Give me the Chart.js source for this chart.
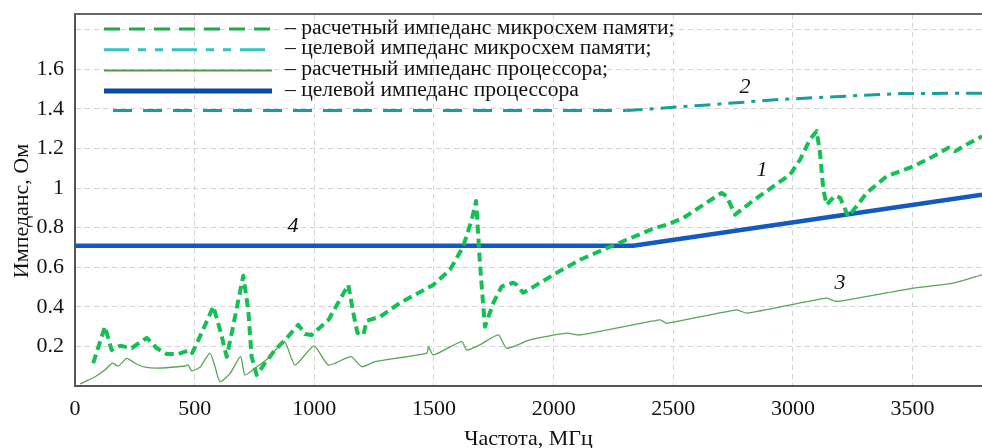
<!DOCTYPE html>
<html>
<head>
<meta charset="utf-8">
<script src="https://cdn.jsdelivr.net/npm/chart.js@4.4.1/dist/chart.umd.min.js"></script>
<style>
  html, body { margin: 0; padding: 0; background: #fff; }
  #wrap { width: 982px; height: 448px; position: relative; }
</style>
</head>
<body>
<div id="wrap"><canvas id="chart"></canvas></div>
<script>
// 1 - расчетный импеданс микросхем памяти
const memCalcFreq = [76, 125, 153, 188, 237, 300, 341, 383, 432, 481, 490, 529, 578, 606, 634, 662, 703, 724, 738, 759,
  794, 836, 878, 933, 961, 989, 1059, 1142, 1163, 1180, 1205, 1219, 1275, 1358, 1497, 1567, 1622, 1658, 1676, 1692,
  1705, 1713, 1748, 1783, 1832, 1846, 1873, 1929, 2013, 2110, 2208, 2305, 2416, 2472, 2542, 2702, 2723, 2758, 2821,
  2918, 2988, 3030, 3071, 3099, 3113, 3127, 3141, 3176, 3197, 3231, 3266, 3308, 3392, 3503, 3587, 3650, 3677, 3726, 3790];
const memCalcZ = [0.115, 0.300, 0.182, 0.203, 0.192, 0.243, 0.192, 0.162, 0.162, 0.182, 0.167, 0.268, 0.402, 0.284, 0.148,
  0.309, 0.557, 0.385, 0.148, 0.056, 0.116, 0.182, 0.233, 0.309, 0.263, 0.258, 0.334, 0.511, 0.370, 0.268, 0.258,
  0.330, 0.350, 0.420, 0.511, 0.587, 0.705, 0.840, 0.935, 0.623, 0.420, 0.300, 0.420, 0.503, 0.522, 0.511, 0.471,
  0.511, 0.572, 0.638, 0.689, 0.739, 0.795, 0.815, 0.849, 0.976, 0.958, 0.866, 0.925, 1.009, 1.068, 1.144, 1.246,
  1.288, 1.180, 0.992, 0.916, 0.962, 0.952, 0.857, 0.908, 0.976, 1.060, 1.110, 1.161, 1.204, 1.186, 1.220, 1.262];

// 2 - целевой импеданс микросхем памяти
const memTargetFreq = [159, 2305, 2612, 2946, 3225, 3448, 3790];
const memTargetZ = [1.392, 1.392, 1.418, 1.448, 1.465, 1.478, 1.48];

// 3 - расчетный импеданс процессора
const cpuCalcFreq = [21, 42, 84, 125, 156, 181, 216, 251, 293, 362, 460, 473, 488, 522, 564, 585, 606, 648, 692, 710,
  752, 808, 875, 919, 999, 1059, 1153, 1198, 1254, 1470, 1477, 1497, 1616, 1637, 1692, 1769, 1804, 1901, 2055, 2110,
  2445, 2473, 2765, 2807, 3141, 3183, 3503, 3670, 3790];
const cpuCalcZ = [0.010, 0.022, 0.047, 0.081, 0.115, 0.101, 0.140, 0.115, 0.095, 0.091, 0.101, 0.106, 0.077, 0.095,
  0.166, 0.098, 0.022, 0.064, 0.148, 0.056, 0.090, 0.140, 0.224, 0.106, 0.203, 0.106, 0.148, 0.098, 0.123, 0.166,
  0.199, 0.157, 0.224, 0.182, 0.208, 0.258, 0.191, 0.233, 0.267, 0.258, 0.334, 0.317, 0.385, 0.368, 0.444, 0.427,
  0.495, 0.520, 0.562];

// 4 - целевой импеданс процессора
const cpuTargetFreq = [0, 2332, 3790];
const cpuTargetZ = [0.709, 0.709, 0.967];

// ticks
const xTicks = [0, 500, 1000, 1500, 2000, 2500, 3000, 3500];
const yTicks = [0, 0.2, 0.4, 0.6, 0.8, 1, 1.2, 1.4, 1.6, 1.8];
const yTickLabels = ['', '0.2', '0.4', '0.6', '0.8', '1', '1.2', '1.4', '1.6', ''];

// curve numbers (freq, impedance)
const curveLabels = ['1', '2', '3', '4'];
const curveLabelFreq = [2871, 2800, 3197, 911];
const curveLabelZ = [1.089, 1.509, 0.52, 0.81];

const legendTexts = [
  '– расчетный импеданс микросхем памяти;',
  '– целевой импеданс микросхем памяти;',
  '– расчетный импеданс процессора;',
  '– целевой импеданс процессора'
];

const toPoints = (xs, ys) => xs.map((x, i) => ({ x: x, y: ys[i] }));

Chart.defaults.font.family = '"Liberation Serif", "Times New Roman", serif';
Chart.defaults.font.size = 22;
Chart.defaults.color = '#111';

const legendStyles = [
  { color: '#22a84a', width: 3, dash: [16, 9] },
  { color: '#2ec4c0', width: 3, dash: [25, 9, 8, 9, 8, 9] },
  { color: '#4c9a50', width: 2, dash: [] },
  { color: '#0d4aa8', width: 5, dash: [] }
];

const extrasPlugin = {
  id: 'extras',
  afterDraw(chart) {
    const c = chart.ctx;
    const area = chart.chartArea;
    const xs = chart.scales.x, ys = chart.scales.y;
    c.save();
    // top border
    c.strokeStyle = '#666';
    c.lineWidth = 2;
    c.beginPath();
    c.moveTo(area.left, area.top);
    c.lineTo(area.right, area.top);
    c.stroke();

    // y axis title
    c.save();
    c.translate(22, 211);
    c.rotate(-Math.PI / 2);
    c.font = '22px "Liberation Serif", serif';
    c.fillStyle = '#111';
    c.textAlign = 'center';
    c.textBaseline = 'middle';
    c.fillText('Импеданс, Ом', 0, 0);
    c.restore();

    // curve numbers
    c.font = 'italic 22px "Liberation Serif", serif';
    c.fillStyle = '#111';
    c.textAlign = 'center';
    c.textBaseline = 'middle';
    curveLabels.forEach((t, i) => {
      c.fillText(t, xs.getPixelForValue(curveLabelFreq[i]), ys.getPixelForValue(curveLabelZ[i]));
    });

    // legend
    c.font = '21.6px "Liberation Serif", serif';
    c.textAlign = 'left';
    legendTexts.forEach((t, i) => {
      const y = area.top + 15 + i * 20.7;
      const st = legendStyles[i];
      c.strokeStyle = st.color;
      c.lineWidth = st.width;
      c.setLineDash(st.dash);
      c.beginPath();
      c.moveTo(area.left + 29, y);
      c.lineTo(area.left + 197, y);
      c.stroke();
      c.setLineDash([]);
      c.fillStyle = '#111';
      c.fillText(t, area.left + 210, y - 1);
    });
    c.restore();
  }
};

const ctx = document.getElementById('chart').getContext('2d');

const chart = new Chart(ctx, {
  type: 'line',
  data: {
    datasets: [
      {
        label: 'расчетный импеданс процессора',
        data: toPoints(cpuCalcFreq, cpuCalcZ),
        borderColor: '#5aa455',
        borderWidth: 1.3,
        pointRadius: 0,
        tension: 0.2
      },
      {
        label: 'целевой импеданс микросхем памяти',
        data: toPoints(memTargetFreq, memTargetZ),
        borderColor: '#1a9e9a',
        borderWidth: 3,
        borderJoinStyle: 'round',
        pointRadius: 0,
        segment: {
          borderDash: c => c.p0.parsed.x >= 2300 ? [16, 7, 4, 7] : [19, 11]
        }
      },
      {
        label: 'расчетный импеданс микросхем памяти',
        data: toPoints(memCalcFreq, memCalcZ),
        borderColor: '#14c053',
        borderWidth: 4,
        borderDash: [9, 5],
        borderJoinStyle: 'round',
        pointRadius: 0,
        tension: 0
      },
      {
        label: 'целевой импеданс процессора',
        data: toPoints(cpuTargetFreq, cpuTargetZ),
        borderColor: '#1459c0',
        borderWidth: 4.5,
        pointRadius: 0
      }
    ]
  },
  options: {
    responsive: true,
    maintainAspectRatio: false,
    animation: false,
    layout: { padding: { top: 14, right: 0, left: 0, bottom: 0 } },
    plugins: {
      legend: { display: false },
      tooltip: { enabled: false }
    },
    scales: {
      x: {
        type: 'linear',
        min: 0,
        max: 3790,
        afterBuildTicks: s => { s.ticks = xTicks.map(v => ({ value: v })); },
        afterFit: s => { s.height = 62; },
        grid: { color: '#d4d4d4', drawTicks: true, tickLength: 10, tickColor: 'rgba(0,0,0,0)' },
        border: { display: true, color: '#555', width: 2, dash: [5, 4] },
        ticks: {
          padding: 0,
          maxRotation: 0,
          autoSkip: false,
          callback: v => String(v)
        },
        title: {
          display: true,
          text: 'Частота, МГц',
          padding: { top: 0, bottom: -4 }
        }
      },
      y: {
        min: 0,
        max: 1.88,
        afterBuildTicks: s => { s.ticks = yTicks.map(v => ({ value: v })); },
        afterFit: s => { s.width = 75; },
        grid: { color: '#d4d4d4', drawTicks: true, tickLength: 11, tickColor: 'rgba(0,0,0,0)' },
        border: { display: true, color: '#555', width: 2, dash: [5, 4] },
        ticks: {
          padding: 0,
          autoSkip: false,
          callback: (v, i) => yTickLabels[i]
        },
        title: { display: false }
      }
    }
  },
  plugins: [extrasPlugin]
});
</script>
</body>
</html>
